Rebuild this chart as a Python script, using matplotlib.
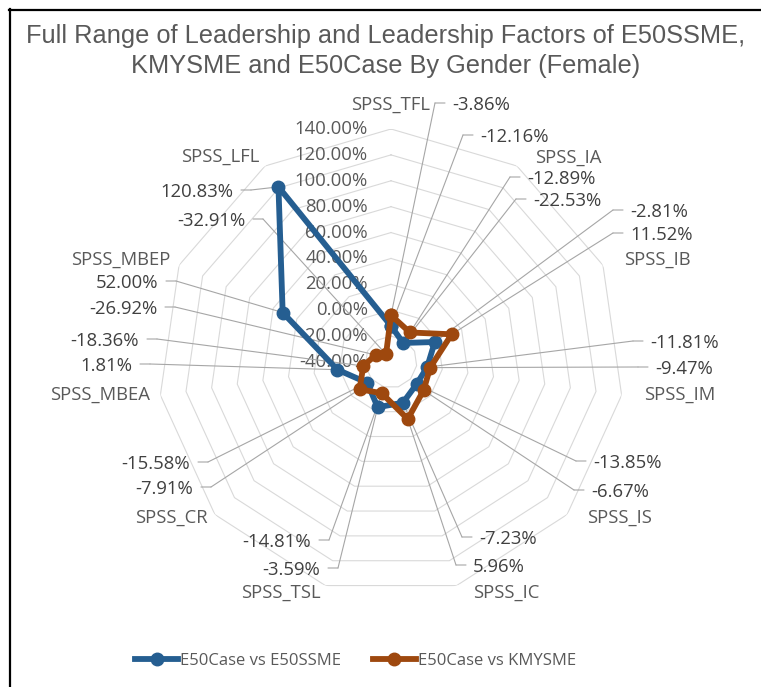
import numpy as np
import matplotlib
matplotlib.use("Agg")
import matplotlib.pyplot as plt
from matplotlib.lines import Line2D

# ---------------- data ----------------
categories = ["SPSS_TFL", "SPSS_IA", "SPSS_IB", "SPSS_IM", "SPSS_IS", "SPSS_IC",
              "SPSS_TSL", "SPSS_CR", "SPSS_MBEA", "SPSS_MBEP", "SPSS_LFL"]
series_names = ["E50Case vs E50SSME", "E50Case vs KMYSME"]
e50ssme = [-12.16, -22.53, -2.81, -11.81, -13.85, -7.23, -3.59, -15.58, 1.81, 52.00, 120.83]
kmysme = [-3.86, -12.89, 11.52, -9.47, -6.67, 5.96, -14.81, -7.91, -18.36, -26.92, -32.91]
radial_ticks = [-40, -20, 0, 20, 40, 60, 80, 100, 120, 140]
title = "Full Range of Leadership and Leadership Factors of E50SSME,\nKMYSME and E50Case By Gender (Female)"

# ---------------- layout (image pixels, origin top-left) ----------------
W, H = 761, 687
CX, CY, R = 391, 362, 233
blue_label_pos = [(480, 137, 'l'), (533, 201, 'l'), (630, 212, 'l'), (650, 343, 'l'),
                  (593, 463, 'l'), (479, 539, 'l'), (320, 570, 'r'), (190, 464, 'r'),
                  (132, 366, 'r'), (158, 283, 'r'), (233, 192, 'r')]
orange_label_pos = [(452, 105, 'l'), (527, 179, 'l'), (630, 235, 'l'), (655, 369, 'l'),
                    (591, 492, 'l'), (473, 567, 'l'), (311, 542, 'r'), (193, 489, 'r'),
                    (139, 341, 'r'), (157, 309, 'r'), (245, 221, 'r')]
cat_label_pos = [(430, 105, 'r'), (535, 158, 'l'), (624, 260, 'l'), (644, 395, 'l'),
                 (587, 518, 'l'), (473, 593, 'l'), (321, 593, 'r'), (208, 518, 'r'),
                 (150, 395, 'r'), (170, 260, 'r'), (259, 157, 'r')]

BLUE = "#255E91"
ORANGE = "#9E480E"
GRID = "#D9D9D9"
LEADER = "#A6A6A6"
TXT = "#595959"
DTXT = "#404040"
FONT = ["Open Sans", "DejaVu Sans"]
FS = 13.3

plt.rcParams["font.family"] = FONT

fig = plt.figure(figsize=(W / 100, H / 100), dpi=100)
fig.patch.set_facecolor("white")


def P(x, y):
    return (x, H - y)


ax = fig.add_axes([(CX - R) / W, (H - CY - R) / H, 2 * R / W, 2 * R / H], projection="polar")
ax.set_theta_zero_location("N")
ax.set_theta_direction(-1)
ax.set_ylim(radial_ticks[0], radial_ticks[-1])
ax.grid(False)
ax.set_xticks([])
ax.set_yticks([])
ax.spines["polar"].set_visible(False)
ax.patch.set_alpha(0)

n = len(categories)
theta = np.arange(n) * 2 * np.pi / n
theta_c = np.append(theta, theta[0])

# polygon grid rings
for r in radial_ticks[1:]:
    ax.plot(theta_c, [r] * (n + 1), color=GRID, lw=0.8, zorder=1)

# radial tick labels
for r in radial_ticks:
    ax.annotate(f"{r:.2f}%", xy=(0, r), xycoords="data", xytext=(-23, 0),
                textcoords="offset pixels", ha="right", va="center",
                color=TXT, fontsize=FS, zorder=2, annotation_clip=False)

# series
for vals, col, name in [(e50ssme, BLUE, series_names[0]), (kmysme, ORANGE, series_names[1])]:
    ax.plot(theta_c, list(vals) + [vals[0]], color=col, lw=4.2, marker="o", ms=9,
            label=name, zorder=5, solid_joinstyle="round")


def data_label(th, val, pos):
    x, y, side = pos
    txt = f"{val:.2f}%"
    if side == 'l':
        s1, s2 = x - 7, x - 17
        ha = "left"
    else:
        s1, s2 = x + 8, x + 18
        ha = "right"
    fig.text(*P(x, y), txt, transform=None, ha=ha, va="center", color=DTXT,
             fontsize=FS, zorder=10)
    # stub
    ax.annotate("", xy=P(s1, y - 2), xycoords="figure pixels", xytext=P(s2, y - 2),
                textcoords="figure pixels",
                arrowprops=dict(arrowstyle="-", color=LEADER, lw=0.8, shrinkA=0, shrinkB=0),
                annotation_clip=False, zorder=3)
    # leader line to the point
    ax.annotate("", xy=(th, val), xycoords="data", xytext=P(s2, y - 2),
                textcoords="figure pixels",
                arrowprops=dict(arrowstyle="-", color=LEADER, lw=0.8, shrinkA=0, shrinkB=0),
                annotation_clip=False, zorder=3)


for i in range(n):
    data_label(theta[i], e50ssme[i], blue_label_pos[i])
    data_label(theta[i], kmysme[i], orange_label_pos[i])

# category labels
for name, (x, y, side) in zip(categories, cat_label_pos):
    fig.text(*P(x, y), name, transform=None, ha="left" if side == 'l' else "right",
             va="center", color=TXT, fontsize=FS)

# title
fig.text(*P(386, 51), title, transform=None, ha="center", va="center", color=TXT,
         fontsize=18.3, linespacing=1.3, family=["Liberation Sans", "DejaVu Sans"])

# legend
handles, labels = ax.get_legend_handles_labels()
leg = fig.legend(handles, labels, loc="center", bbox_to_anchor=(0.467, 1 - 661 / H), ncol=2,
                 frameon=False, fontsize=12, handlelength=2.6, handletextpad=0.1,
                 columnspacing=1.9, labelcolor=TXT)

# border
fig.add_artist(Line2D([9 / W, 1], [1 - 10 / H, 1 - 10 / H], transform=fig.transFigure, color="black", lw=1.6))
fig.add_artist(Line2D([10 / W, 10 / W], [0, 1 - 9 / H], transform=fig.transFigure, color="black", lw=1.6))

fig.savefig("out.png", dpi=100, facecolor="white")
